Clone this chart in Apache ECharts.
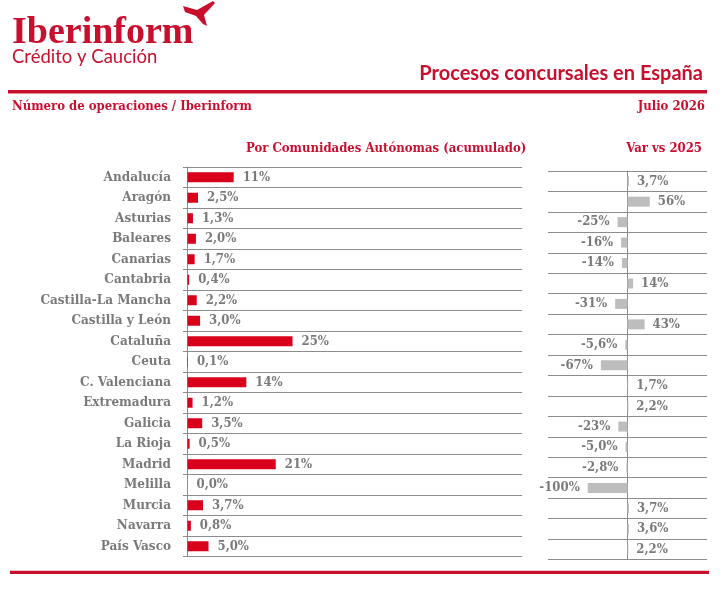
<!DOCTYPE html>
<html>
<head>
<meta charset="utf-8">
<script src="https://cdn.jsdelivr.net/npm/echarts@6/dist/echarts.min.js"></script>
<style>
  html, body { margin: 0; padding: 0; background: #fff; }
  #main { width: 725px; height: 590px; }
</style>
</head>
<body>
<div id="main"></div>
<script>
let regions = ['Andalucía', 'Aragón', 'Asturias', 'Baleares', 'Canarias', 'Cantabria',
    'Castilla-La Mancha', 'Castilla y León', 'Cataluña', 'Ceuta', 'C. Valenciana',
    'Extremadura', 'Galicia', 'La Rioja', 'Madrid', 'Melilla', 'Murcia', 'Navarra', 'País Vasco']
let share = [11, 2.5, 1.3, 2.0, 1.7, 0.4, 2.2, 3.0, 25, 0.1, 14, 1.2, 3.5, 0.5, 21, 0.0, 3.7, 0.8, 5.0]
let varVs2025 = [3.7, 56, -25, -16, -14, 14, -31, 43, -5.6, -67, 1.7, 2.2, -23, -5.0, -2.8, -100, 3.7, 3.6, 2.2]

let red = '#c8102e'
let barRed = '#d9001b'
let gray = '#7a7a7a'
let lineGray = '#8c8c8c'
let slab = "'DejaVu Serif Condensed', 'Liberation Serif', serif"
let serif = "'Liberation Serif', serif"
let sans = "Lato, Roboto, sans-serif"

// 11% / 2,5% style
function pct(v) {
    let s = Math.abs(v) >= 10 ? Math.round(v).toString() : v.toFixed(1).replace('.', ',')
    return s + '%'
}

let myChart = echarts.init(document.getElementById('main'))

let option = {
    animation: false,
    title: [
        { text: 'Iberinform', left: 12, top: 14, padding: 0, textStyle: { color: red, fontFamily: serif, fontWeight: 'bold', fontSize: 38 } },
        { text: 'Crédito y Caución', left: 12, top: 48, padding: 0, textStyle: { color: red, fontFamily: sans, fontWeight: 'normal', fontSize: 18.5 } },
        { text: 'Procesos concursales en España', right: 22, top: 64, padding: 0, textStyle: { color: red, fontFamily: sans, fontWeight: 'bold', fontSize: 20 } },
        { text: 'Número de operaciones / Iberinform', left: 12, top: 100, padding: 0, textStyle: { color: red, fontFamily: slab, fontWeight: 'bold', fontSize: 13 } },
        { text: 'Julio 2026', right: 20, top: 100, padding: 0, textStyle: { color: red, fontFamily: slab, fontWeight: 'bold', fontSize: 13 } },
        { text: 'Por Comunidades Autónomas (acumulado)', left: 246, top: 142, padding: 0, textStyle: { color: red, fontFamily: slab, fontWeight: 'bold', fontSize: 13 } },
        { text: 'Var vs 2025', right: 23, top: 142, padding: 0, textStyle: { color: red, fontFamily: slab, fontWeight: 'bold', fontSize: 13 } }
    ],
    graphic: [
        { type: 'polygon', shape: { points: [[183, 6], [197, 10], [213, 1], [215, 3], [204, 15], [207, 26], [203, 24], [196, 16], [185, 12]] }, style: { fill: red } },
        { type: 'rect', shape: { x: 8, y: 90, width: 699, height: 3.5 }, style: { fill: red } },
        { type: 'rect', shape: { x: 10, y: 570.7, width: 699, height: 3.3 }, style: { fill: red } }
    ],
    grid: [
        { left: 183, top: 167, width: 339, height: 389.5 },
        { left: 548, top: 171, width: 159, height: 388.5 }
    ],
    xAxis: [
        { type: 'value', gridIndex: 0, min: -1.07, max: 79.6, show: false },
        { type: 'value', gridIndex: 1, min: -200, max: 200, show: false }
    ],
    yAxis: [
        {
            type: 'category', gridIndex: 0, data: regions, inverse: true,
            axisLine: { onZero: true, lineStyle: { color: lineGray, width: 1 } },
            axisTick: { show: false },
            splitLine: { show: true, lineStyle: { color: lineGray, width: 1 } },
            axisLabel: { color: gray, fontFamily: slab, fontWeight: 'bold', fontSize: 13.4, margin: 12 }
        },
        {
            type: 'category', gridIndex: 1, data: regions, inverse: true,
            axisLine: { onZero: true, lineStyle: { color: lineGray, width: 1 } },
            axisTick: { show: false },
            splitLine: { show: true, lineStyle: { color: lineGray, width: 1 } },
            axisLabel: { show: false }
        }
    ],
    series: [
        {
            type: 'bar', xAxisIndex: 0, yAxisIndex: 0,
            data: share,
            barWidth: 10,
            itemStyle: { color: barRed },
            label: {
                show: true, position: 'right', distance: 9,
                color: gray, fontFamily: slab, fontWeight: 'bold', fontSize: 13,
                formatter: p => pct(p.value)
            }
        },
        {
            type: 'bar', xAxisIndex: 1, yAxisIndex: 1,
            data: varVs2025.map(v => ({ value: v, label: { position: v < 0 ? 'left' : 'right' } })),
            barWidth: 10,
            itemStyle: { color: '#bdbdbd' },
            label: {
                show: true, distance: 8,
                color: gray, fontFamily: slab, fontWeight: 'bold', fontSize: 13,
                formatter: p => pct(p.value)
            }
        }
    ]
}

myChart.setOption(option)
</script>
</body>
</html>
